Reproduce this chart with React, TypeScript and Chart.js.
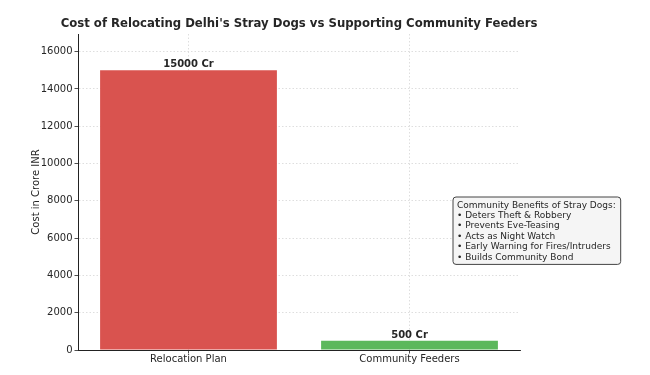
import React, { useEffect, useRef } from "react";
import { Chart, registerables } from "chart.js";

Chart.register(...registerables);

const TITLE = "Cost of Relocating Delhi's Stray Dogs vs Supporting Community Feeders";
const CATEGORIES = ["Relocation Plan", "Community Feeders"];
const COSTS = [15000, 500];
const BAR_COLORS = ["#d9534f", "#5cb85c"];
const Y_TICKS = [0, 2000, 4000, 6000, 8000, 10000, 12000, 14000, 16000];
const Y_MAX = 16950;
const Y_LABEL = "Cost in Crore INR";
const BENEFITS = [
  "Community Benefits of Stray Dogs:",
  "• Deters Theft & Robbery",
  "• Prevents Eve-Teasing",
  "• Acts as Night Watch",
  "• Early Warning for Fires/Intruders",
  "• Builds Community Bond",
];

const FONT = "'DejaVu Sans', sans-serif";
const TEXT = "#262626";

const overlayPlugin = {
  id: "overlay",
  afterDraw(chart: any) {
    const ctx = chart.ctx;
    const area = chart.chartArea;
    ctx.save();
    // title
    ctx.fillStyle = TEXT;
    ctx.font = `bold 11.7px ${FONT}`;
    ctx.textAlign = "center";
    ctx.textBaseline = "alphabetic";
    ctx.fillText(TITLE, (area.left + area.right) / 2, 27);
    // bar labels
    const meta = chart.getDatasetMeta(0);
    ctx.font = `bold 10px ${FONT}`;
    meta.data.forEach((bar: any, i: number) => {
      ctx.fillText(`${COSTS[i]} Cr`, bar.x, bar.y - 3);
    });
    // annotation box
    const boxLeft = 453;
    const boxTop = 197;
    const lineH = 10.4;
    ctx.font = `9px ${FONT}`;
    let maxW = 0;
    BENEFITS.forEach((t) => (maxW = Math.max(maxW, ctx.measureText(t).width)));
    const boxW = maxW + 9;
    const boxH = lineH * BENEFITS.length + 5;
    const r = 3;
    ctx.beginPath();
    ctx.moveTo(boxLeft + r, boxTop);
    ctx.lineTo(boxLeft + boxW - r, boxTop);
    ctx.quadraticCurveTo(boxLeft + boxW, boxTop, boxLeft + boxW, boxTop + r);
    ctx.lineTo(boxLeft + boxW, boxTop + boxH - r);
    ctx.quadraticCurveTo(boxLeft + boxW, boxTop + boxH, boxLeft + boxW - r, boxTop + boxH);
    ctx.lineTo(boxLeft + r, boxTop + boxH);
    ctx.quadraticCurveTo(boxLeft, boxTop + boxH, boxLeft, boxTop + boxH - r);
    ctx.lineTo(boxLeft, boxTop + r);
    ctx.quadraticCurveTo(boxLeft, boxTop, boxLeft + r, boxTop);
    ctx.closePath();
    ctx.fillStyle = "#f5f5f5";
    ctx.fill();
    ctx.strokeStyle = "#444";
    ctx.lineWidth = 1;
    ctx.stroke();
    ctx.fillStyle = TEXT;
    ctx.textAlign = "left";
    ctx.textBaseline = "middle";
    BENEFITS.forEach((t, i) => {
      ctx.fillText(t, boxLeft + 4, boxTop + 3 + lineH * (i + 0.5));
    });
    ctx.restore();
  },
};

export default function App() {
  const ref = useRef<HTMLCanvasElement>(null);
  useEffect(() => {
    if (!ref.current) return;
    const chart = new Chart(ref.current, {
      type: "bar",
      data: {
        labels: CATEGORIES,
        datasets: [
          {
            data: COSTS,
            backgroundColor: BAR_COLORS,
            borderWidth: 0,
            categoryPercentage: 1,
            barPercentage: 0.8,
          },
        ],
      },
      options: {
        responsive: false,
        animation: false,
        devicePixelRatio: 1,
        layout: { padding: { top: 34, right: 130, left: 0, bottom: 0 } },
        plugins: {
          legend: { display: false },
          title: { display: false },
          tooltip: { enabled: false },
        },
        scales: {
          x: {
            z: 1,
            offset: true,
            grid: {
              offset: false,
              color: "#d6d6d6",
              lineWidth: 0.8,
              drawTicks: true,
              tickLength: 3.5,
              tickColor: "#222",
              tickBorderDash: [],
            },
            border: { display: true, color: "#222", width: 1, dash: [1.5, 2] },
            ticks: { color: TEXT, font: { family: FONT, size: 10 }, padding: 0 },
            afterFit: (s: any) => {
              s.height = 25;
            },
          },
          y: {
            z: 1,
            min: 0,
            max: Y_MAX,
            afterBuildTicks: (s: any) => {
              s.ticks = Y_TICKS.map((v) => ({ value: v }));
            },
            grid: {
              color: "#d6d6d6",
              lineWidth: 0.8,
              drawTicks: true,
              tickLength: 3.5,
              tickColor: "#222",
              tickBorderDash: [],
            },
            border: { display: true, color: "#222", width: 1, dash: [1.5, 2] },
            ticks: {
              color: TEXT,
              font: { family: FONT, size: 10 },
              padding: 2,
              callback: (v: any) => String(v),
            },
            title: {
              display: true,
              text: Y_LABEL,
              color: TEXT,
              font: { family: FONT, size: 10 },
              padding: { top: 30, bottom: 0 },
            },
            afterFit: (s: any) => {
              s.width = 78;
            },
          },
        },
      },
      plugins: [overlayPlugin],
    });
    return () => chart.destroy();
  }, []);
  return (
    <div style={{ position: "fixed", left: 0, top: 0, width: 650, height: 375, background: "#fff" }}>
      <canvas ref={ref} width={650} height={375} style={{ width: 650, height: 375 }} />
    </div>
  );
}
